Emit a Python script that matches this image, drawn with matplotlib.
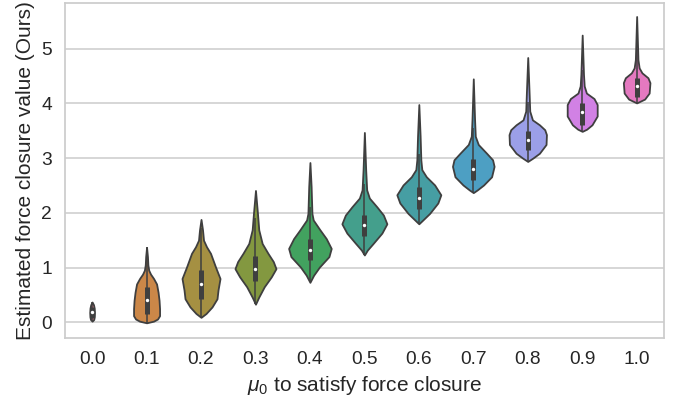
import numpy as np
import matplotlib.pyplot as plt
import seaborn as sns

# mu_0 categories
mu0 = ['0.0', '0.1', '0.2', '0.3', '0.4', '0.5', '0.6', '0.7', '0.8', '0.9', '1.0']

# violin outline: values along y and half-width (density, px)
prof_y = [
    [0.02, 0.05, 0.10, 0.18, 0.26, 0.32, 0.37],
    [-0.01, 0.02, 0.06, 0.12, 0.25, 0.40, 0.55, 0.70, 0.80, 0.88, 0.95, 1.05, 1.20, 1.37],
    [0.09, 0.16, 0.28, 0.43, 0.59, 0.80, 1.01, 1.26, 1.38, 1.50, 1.69, 1.88],
    [0.33, 0.46, 0.65, 0.83, 0.98, 1.11, 1.26, 1.44, 1.69, 1.99, 2.41],
    [0.73, 0.86, 1.01, 1.20, 1.35, 1.53, 1.69, 1.87, 1.99, 2.48, 2.92],
    [1.23, 1.32, 1.44, 1.63, 1.80, 1.96, 2.11, 2.27, 2.42, 2.79, 3.47],
    [1.80, 1.87, 1.99, 2.18, 2.33, 2.51, 2.66, 2.79, 2.97, 3.40, 3.98],
    [2.37, 2.42, 2.51, 2.66, 2.85, 2.97, 3.09, 3.25, 3.40, 3.70, 4.45],
    [2.94, 3.00, 3.09, 3.25, 3.43, 3.52, 3.61, 3.70, 3.86, 4.22, 4.84],
    [3.49, 3.53, 3.61, 3.77, 3.98, 4.09, 4.19, 4.32, 4.53, 5.25],
    [4.01, 4.08, 4.19, 4.38, 4.47, 4.56, 4.65, 4.80, 5.59],
]
prof_w = [
    [0, 1.6, 2.2, 2.4, 2.1, 1.4, 0],
    [0, 7, 11, 13, 13, 12.5, 11.5, 10, 7, 4, 2.2, 1.3, 0.9, 0],
    [0, 5, 11, 16, 17, 19, 14.5, 9.5, 5.5, 2.5, 1.5, 0],
    [0, 3.3, 8.8, 15.8, 20.5, 17.8, 12.5, 6.7, 3.3, 2, 0],
    [0, 3.7, 9.5, 19, 21.3, 16.3, 10, 3.3, 2, 1.2, 0],
    [0, 3, 8.7, 17.5, 22.5, 19, 12.5, 5, 2.3, 1.3, 0],
    [0, 4, 10.8, 19, 22, 15.8, 7.5, 3, 2, 1.3, 0],
    [0, 4, 10.3, 18.3, 20.8, 19.3, 13.3, 5, 2, 1.3, 0],
    [0, 5, 11.7, 18.3, 18.7, 17, 11.7, 4.7, 2, 1.3, 0],
    [0, 4.5, 9.8, 15, 15, 11.8, 4.2, 2, 1.3, 0],
    [0, 8, 12.5, 13.3, 11.3, 5.3, 2.5, 1.3, 0],
]
q1 = [0.08, 0.15, 0.43, 0.75, 1.14, 1.58, 2.07, 2.60, 3.15, 3.61, 4.12]
med = [0.18, 0.41, 0.70, 0.98, 1.33, 1.77, 2.27, 2.80, 3.33, 3.84, 4.32]
q3 = [0.28, 0.65, 0.95, 1.21, 1.53, 1.96, 2.47, 2.98, 3.50, 4.01, 4.47]

sns.set_style('whitegrid')
plt.rcParams['font.family'] = ['Liberation Sans', 'DejaVu Sans']
plt.rcParams['mathtext.fontset'] = 'custom'
plt.rcParams['mathtext.rm'] = 'Liberation Sans'
plt.rcParams['mathtext.it'] = 'Liberation Sans:italic'

colors = sns.color_palette('husl', len(mu0), desat=0.75)
gray = '#3f3f3f'

fig = plt.figure(figsize=(6.83, 4.03), dpi=100)
ax = fig.add_axes([0.095, 0.161, 0.877, 0.832])

px_per_cat = 54.45  # half-widths were read in pixels
stats = []
for i in range(len(mu0)):
    stats.append(dict(coords=np.array(prof_y[i]), vals=np.array(prof_w[i], float),
                      mean=med[i], median=med[i], min=prof_y[i][0], max=prof_y[i][-1]))
widths = [2 * max(w) / px_per_cat for w in prof_w]
parts = ax.violin(stats, positions=range(len(mu0)), widths=widths,
                  showmeans=False, showextrema=False, showmedians=False)
for body, c in zip(parts['bodies'], colors):
    body.set_facecolor(c)
    body.set_edgecolor(gray)
    body.set_linewidth(1.3)
    body.set_alpha(1)
    body.set_joinstyle('round')

# inner box
for i in range(len(mu0)):
    iqr = q3[i] - q1[i]
    lo = max(prof_y[i][0], q1[i] - 1.5 * iqr)
    hi = min(prof_y[i][-1], q3[i] + 1.5 * iqr)
    ax.vlines(i, lo, hi, color=gray, lw=1.1, zorder=2)
    ax.vlines(i, q1[i], q3[i], color=gray, lw=3.6, zorder=2)
ax.scatter(range(len(mu0)), med, s=6, color='white', zorder=3, linewidths=0)

ax.set_xlim(-0.5, 10.5)
ax.set_ylim(-0.29, 5.84)
ax.set_xticks(range(len(mu0)))
ax.set_xticklabels(mu0)
ax.set_yticks([0, 1, 2, 3, 4, 5])
ax.tick_params(labelsize=13.75, length=0, pad=9.5)
ax.grid(False, axis='x')
ax.grid(True, axis='y', color='#cccccc', lw=1.1)
for s in ax.spines.values():
    s.set_color('#cccccc')
    s.set_linewidth(1.25)
ax.set_xlabel(r'$\mu_0$ to satisfy force closure', fontsize=15, labelpad=4)
ax.set_ylabel('Estimated force closure value (Ours)', fontsize=15, labelpad=4)

plt.savefig('out.png', dpi=100)
